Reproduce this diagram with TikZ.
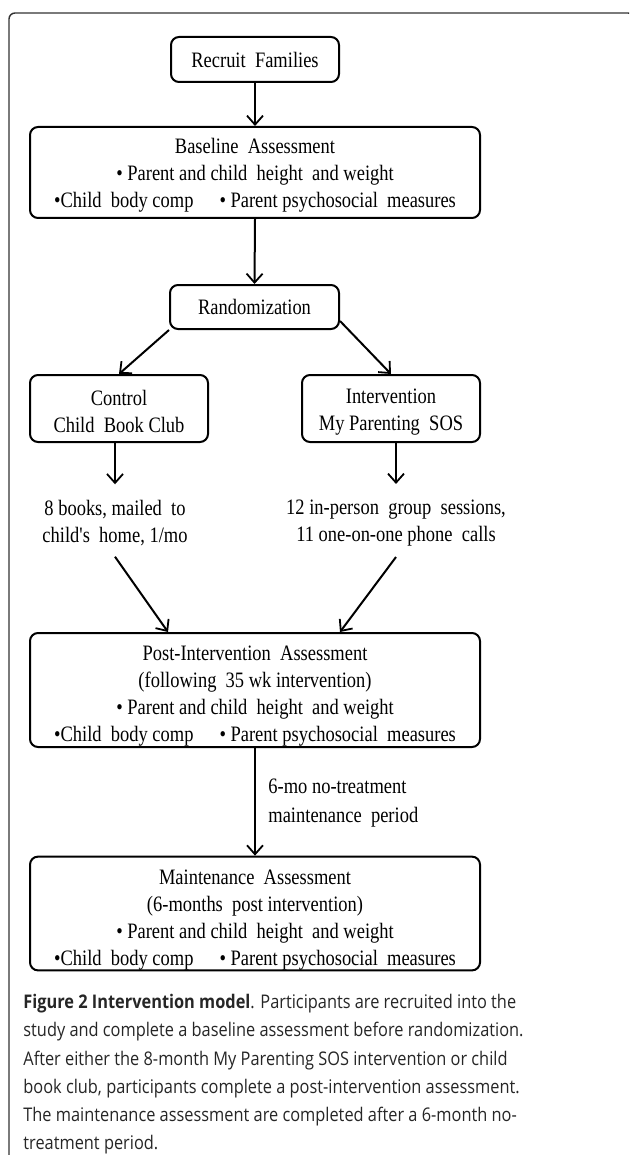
\documentclass[tikz,border=0pt]{standalone}
\usepackage{fontspec}
\usetikzlibrary{arrows.meta,calc}
\newfontfamily\diagfont[FakeStretch=0.84]{Liberation Serif}
\newfontfamily\capfont[FakeStretch=0.87]{Open Sans}
\newcommand{\upstrut}{\rule{0pt}{13pt}}
\newcommand{\lowstrut}{\rule{0pt}{10.5pt}}
\begin{document}
\begin{tikzpicture}[x=0.5pt,y=-0.5pt,
  box/.style={draw=black,line width=1pt,rounded corners=4pt,align=center,
    font=\diagfont\fontsize{11}{13.5}\selectfont,inner sep=0pt},
  plain/.style={align=center,font=\diagfont\fontsize{11}{13.5}\selectfont,inner sep=2pt},
  arr/.style={line width=1pt,-{Straight Barb[length=4.5pt,width=8pt,line width=0.9pt]}},
]
\useasboundingbox (0,0) rectangle (629,1155);
\begin{scope}
\clip (0,0) rectangle (629,1155);
\draw[line width=0.7pt,black!80,rounded corners=3pt] (9,13) rectangle (634,1162);
\end{scope}

\node[box,minimum width=84pt,minimum height=22.5pt] (recruit) at (255,59.5) {Recruit\ \ Families};
\node[box,minimum width=225pt,minimum height=45.5pt] (base) at (255,172.5)
  {\lowstrut Baseline\ \ Assessment\\ \textbullet\ Parent and child\ \ height\ \ and weight\\
   \textbullet Child\ \ body comp\hspace{13pt}\textbullet\ Parent psychosocial\ \ measures};
\node[box,minimum width=84.5pt,minimum height=22pt] (rand) at (254.5,307) {Randomization};
\node[box,minimum width=89pt,minimum height=33.5pt] (ctrl) at (119,408.5) {\lowstrut Control\\ Child\ \ Book Club};
\node[box,minimum width=89pt,minimum height=33.5pt] (intv) at (391,408.5) {\lowstrut Intervention\\ My Parenting\ \ SOS};
\node[plain] (ctext) at (115,523.5) {8 books, mailed\ \ to\\ child's\ \ home,\ 1/mo};
\node[plain] (itext) at (396,523.5) {12 in-person\ \ group\ \ sessions,\\ 11 one-on-one phone\ \ calls};
\node[box,minimum width=225pt,minimum height=57pt] (post) at (255,690)
  {\upstrut Post-Intervention\ \ Assessment\\ (following\ \ 35 wk intervention)\\
   \textbullet\ Parent and child\ \ height\ \ and weight\\
   \textbullet Child\ \ body comp\hspace{13pt}\textbullet\ Parent psychosocial\ \ measures};
\node[box,minimum width=225pt,minimum height=56.5pt] (maint) at (255,913.5)
  {\rule{0pt}{14pt}Maintenance\ \ Assessment\\ (6-months\ \ post intervention)\\
   \textbullet\ Parent and child\ \ height\ \ and weight\\
   \textbullet Child\ \ body comp\hspace{13pt}\textbullet\ Parent psychosocial\ \ measures};
\node[plain,anchor=west,align=left] (gap) at (264,803) {6-mo no-treatment\\[1pt] maintenance\ \ period};

\draw[arr] (recruit.south) -- (base.north);
\draw[arr] (base.south) -- (rand.north);
\draw[arr] (rand.south west) -- (ctrl.north);
\draw[arr] ([yshift=4.5pt]rand.south east) -- (intv.north);
\draw[arr] (ctext.north |- ctrl.south) -- ([yshift=6pt]ctext.north);
\draw[arr] (itext.north |- intv.south) -- ([yshift=6pt]itext.north);
\draw[arr] ([yshift=-3pt]ctext.south) -- ([xshift=-43.5pt]post.north);
\draw[arr] ([yshift=-3pt]itext.south) -- ([xshift=42.5pt]post.north);
\draw[arr] (post.south) -- (maint.north);

\node[anchor=north west,align=left,inner sep=0pt,text=black!85,
  font=\capfont\fontsize{9.4}{14.1}\selectfont] (cap) at (23,994)
  {\textbf{Figure 2 Intervention model}. Participants are recruited into the\\
   study and complete a baseline assessment before randomization.\\
   After either the 8-month My Parenting SOS intervention or child\\
   book club, participants complete a post-intervention assessment.\\
   The maintenance assessment are completed after a 6-month no-\\
   treatment period.};
\end{tikzpicture}
\end{document}
